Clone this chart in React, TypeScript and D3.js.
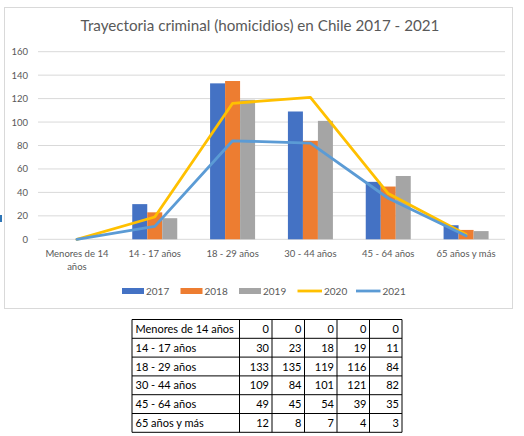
import React from "react";
import * as d3 from "d3";

const categories = [
  "Menores de 14 años",
  "14 - 17 años",
  "18 - 29 años",
  "30 - 44 años",
  "45 - 64 años",
  "65 años y más",
];
const years = ["2017", "2018", "2019", "2020", "2021"];
const v2017 = [0, 30, 133, 109, 49, 12];
const v2018 = [0, 23, 135, 84, 45, 8];
const v2019 = [0, 18, 119, 101, 54, 7];
const v2020 = [0, 19, 116, 121, 39, 4];
const v2021 = [0, 11, 84, 82, 35, 3];
const yTicks = [0, 20, 40, 60, 80, 100, 120, 140, 160];
const title = "Trayectoria criminal (homicidios) en Chile 2017 - 2021";

const barSeries = [
  { name: "2017", values: v2017, color: "#4472C4" },
  { name: "2018", values: v2018, color: "#ED7D31" },
  { name: "2019", values: v2019, color: "#A5A5A5" },
];
const lineSeries = [
  { name: "2020", values: v2020, color: "#FFC000" },
  { name: "2021", values: v2021, color: "#5B9BD5" },
];
const allSeries = [v2017, v2018, v2019, v2020, v2021];

const FONT = "Lato, 'Liberation Sans', sans-serif";
const TXT = "#595959";

function wrap(label: string, maxChars: number): string[] {
  const words = label.split(" ");
  const lines: string[] = [];
  let cur = "";
  for (const w of words) {
    const next = cur ? cur + " " + w : w;
    if (next.length > maxChars && cur) {
      lines.push(cur);
      cur = w;
    } else cur = next;
  }
  if (cur) lines.push(cur);
  return lines;
}

export default function App() {
  const W = 524,
    H = 436;
  const plotL = 38,
    plotR = 505,
    plotT = 51.7,
    plotB = 239.3;

  const x = d3.scaleBand<string>().domain(categories).range([plotL, plotR]).padding(0);
  const y = d3.scaleLinear().domain([0, 160]).range([plotB, plotT]);
  const xs = d3
    .scaleBand<string>()
    .domain(barSeries.map((s) => s.name))
    .range([-22.5, 22.5])
    .padding(0);
  const cx = (c: string) => (x(c) as number) + x.bandwidth() / 2;

  const line = d3
    .line<number>()
    .x((_, i) => cx(categories[i]))
    .y((d) => y(d));

  const legendItems = [
    ...barSeries.map((s) => ({ ...s, kind: "bar" })),
    ...lineSeries.map((s) => ({ ...s, kind: "line" })),
  ];
  const legX = d3.scaleLinear().domain([0, 1]).range([122, 180.5]);
  const legY = 291;

  const tL = 132,
    tT = 319.5,
    firstW = 107.5,
    colW = 32.5,
    rowH = 18.8;
  const tR = tL + firstW + colW * years.length;
  const tB = tT + rowH * categories.length;

  return (
    <svg
      width={W}
      height={H}
      style={{ position: "absolute", left: 0, top: 0, background: "#fff" }}
      fontFamily={FONT}
    >
      <rect x={0} y={0} width={W} height={H} fill="#fff" />
      <rect x={4.5} y={7.5} width={508} height={301} fill="#fff" stroke="#d9d9d9" strokeWidth={1} />
      <rect x={0} y={215} width={2} height={7} fill="#2E75B6" />
      <text x={260} y={31} textAnchor="middle" fontSize={15.2} fill={TXT}>
        {title}
      </text>
      {yTicks.map((t) => (
        <g key={t}>
          <line x1={plotL} x2={plotR} y1={y(t)} y2={y(t)} stroke="#d9d9d9" strokeWidth={1} />
          <text x={28} y={y(t) + 3.5} textAnchor="end" fontSize={9.5} fill={TXT}>
            {t}
          </text>
        </g>
      ))}
      {barSeries.map((s) => (
        <g key={s.name}>
          {s.values.map((v, i) => (
            <rect
              key={i}
              x={cx(categories[i]) + (xs(s.name) as number)}
              y={y(v)}
              width={xs.bandwidth()}
              height={plotB - y(v)}
              fill={s.color}
            />
          ))}
        </g>
      ))}
      {lineSeries.map((s) => (
        <path
          key={s.name}
          d={line(s.values) || ""}
          fill="none"
          stroke={s.color}
          strokeWidth={2.8}
          strokeLinejoin="round"
          strokeLinecap="round"
        />
      ))}
      {categories.map((c) => (
        <text key={c} x={cx(c)} y={257} textAnchor="middle" fontSize={9.5} fill={TXT}>
          {wrap(c, 14).map((l, j) => (
            <tspan key={j} x={cx(c)} dy={j === 0 ? 0 : 12.7}>
              {l}
            </tspan>
          ))}
        </text>
      ))}
      {legendItems.map((s, i) => {
        const lx = legX(i);
        return (
          <g key={s.name}>
            {s.kind === "bar" ? (
              <rect x={lx} y={legY - 3} width={22} height={6} fill={s.color} />
            ) : (
              <line x1={lx} x2={lx + 24.5} y1={legY} y2={legY} stroke={s.color} strokeWidth={2.8} />
            )}
            <text x={lx + (s.kind === "bar" ? 24 : 26.5)} y={legY + 3.5} fontSize={10} fill={TXT}>
              {s.name}
            </text>
          </g>
        );
      })}
      <g>
        {categories.map((c, r) => (
          <g key={c}>
            <text x={tL + 3.5} y={tT + r * rowH + 13.5} fontSize={11} fill="#000">
              {c}
            </text>
            {years.map((yr, k) => (
              <text
                key={yr}
                x={tL + firstW + colW * (k + 1) - 3}
                y={tT + r * rowH + 13.5}
                fontSize={11}
                textAnchor="end"
                fill="#000"
              >
                {allSeries[k][r]}
              </text>
            ))}
          </g>
        ))}
        {d3.range(categories.length + 1).map((r) => (
          <line key={"h" + r} x1={tL} x2={tR} y1={tT + r * rowH} y2={tT + r * rowH} stroke="#000" strokeWidth={1} />
        ))}
        {d3.range(years.length + 2).map((k) => {
          const xx = k === 0 ? tL : tL + firstW + colW * (k - 1);
          return <line key={"v" + k} x1={xx} x2={xx} y1={tT} y2={tB} stroke="#000" strokeWidth={1} />;
        })}
      </g>
    </svg>
  );
}
